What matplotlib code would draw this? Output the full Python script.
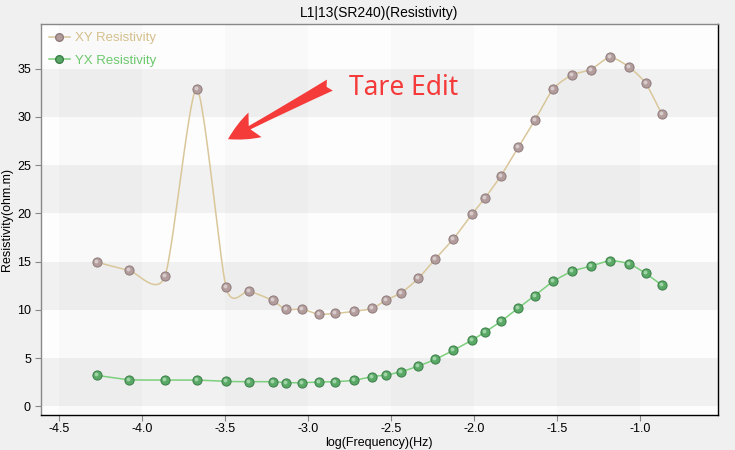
import numpy as np
import matplotlib
matplotlib.use("Agg")
import matplotlib.pyplot as plt
from matplotlib.lines import Line2D

log_freq = [-4.276, -4.079, -3.864, -3.673, -3.496, -3.358, -3.215, -3.137, -3.04, -2.938,
            -2.838, -2.727, -2.616, -2.534, -2.44, -2.337, -2.235, -2.126, -2.013, -1.935,
            -1.839, -1.734, -1.634, -1.524, -1.411, -1.298, -1.182, -1.069, -0.967, -0.870]
xy_res = [14.96, 14.1, 13.5, 32.9, 12.37, 11.96, 10.99, 10.06, 10.09, 9.57,
          9.64, 9.85, 10.16, 10.99, 11.78, 13.27, 15.27, 17.34, 19.93, 21.6,
          23.9, 26.86, 29.66, 32.9, 34.35, 34.9, 36.18, 35.2, 33.5, 30.35]
yx_res = [3.23, 2.78, 2.74, 2.74, 2.6, 2.57, 2.57, 2.47, 2.47, 2.54,
          2.57, 2.71, 3.09, 3.26, 3.6, 4.19, 4.88, 5.82, 6.88, 7.71,
          8.82, 10.2, 11.5, 12.96, 14.0, 14.54, 15.1, 14.8, 13.8, 12.58]
x_ticks = [-4.5, -4.0, -3.5, -3.0, -2.5, -2.0, -1.5, -1.0]
y_ticks = [0, 5, 10, 15, 20, 25, 30, 35]

title = "L1|13(SR240)(Resistivity)"
xlabel = "log(Frequency)(Hz)"
ylabel = "Resistivity(ohm.m)"


def cardinal(xs, ys, k=0.35, n=24):
    # cardinal spline through the points (k = tangent scale)
    P = np.column_stack([xs, ys]).astype(float)
    P = np.vstack([2 * P[0] - P[1], P, 2 * P[-1] - P[-2]])
    out = []
    t = np.linspace(0, 1, n, endpoint=False)[:, None]
    h00 = 2 * t ** 3 - 3 * t ** 2 + 1
    h10 = t ** 3 - 2 * t ** 2 + t
    h01 = -2 * t ** 3 + 3 * t ** 2
    h11 = t ** 3 - t ** 2
    for i in range(1, len(P) - 2):
        p0, p1, p2, p3 = P[i - 1], P[i], P[i + 1], P[i + 2]
        m1 = k * (p2 - p0)
        m2 = k * (p3 - p1)
        out.append(h00 * p1 + h10 * m1 + h01 * p2 + h11 * m2)
    out.append(P[-2][None, :])
    out = np.vstack(out)
    return out[:, 0], out[:, 1]


plt.rcParams['font.family'] = ['Liberation Sans', 'DejaVu Sans']

fig = plt.figure(figsize=(7.35, 4.5), dpi=100)
fig.patch.set_facecolor('#f0f0f0')
ax = fig.add_axes([0.0554, 0.0778, 0.9215, 0.8682])
ax.set_facecolor('#fdfdfd')
xlim = (-4.613, -0.53)
ylim = (-0.88, 39.6)
ax.set_xlim(*xlim)
ax.set_ylim(*ylim)

# background bands
for y0 in range(0, 40, 10):
    ax.axhspan(y0, y0 + 5, color='#f1f1f1', zorder=0, lw=0)
for x0 in [-4.5, -3.5, -2.5, -1.5]:
    ax.axvspan(x0, x0 + 0.5, color='#000000', alpha=0.015, zorder=0.5, lw=0)

xy_line = '#d9c79a'
yx_line = '#7ccf7c'
sx, sy = cardinal(log_freq, xy_res)
ax.plot(sx, sy, color=xy_line, lw=1.1, zorder=2)
sx, sy = cardinal(log_freq, yx_res)
ax.plot(sx, sy, color=yx_line, lw=1.1, zorder=2)

hl = ax.transData + matplotlib.transforms.ScaledTranslation(-1 / 100, 1 / 100, fig.dpi_scale_trans)
ax.plot(log_freq, xy_res, ls='none', marker='o', ms=6.6, mfc='#b39c9c', mec='#8f7b7b', mew=0.7, zorder=3)
ax.plot(log_freq, xy_res, ls='none', marker='o', ms=2.8, mfc='#d8cbcb', mec='none', zorder=4, transform=hl)
ax.plot(log_freq, yx_res, ls='none', marker='o', ms=6.6, mfc='#5aa866', mec='#3a7d48', mew=0.7, zorder=3)
ax.plot(log_freq, yx_res, ls='none', marker='o', ms=2.8, mfc='#9fd4a6', mec='none', zorder=4, transform=hl)

ax.set_xticks(x_ticks)
ax.set_xticklabels([f"{v:.1f}" for v in x_ticks])
ax.set_yticks(y_ticks)
ax.tick_params(axis='both', labelsize=9, length=4, width=0.8, color='#888888', pad=2)
ax.tick_params(axis='y', pad=3)

for side in ['left', 'top']:
    ax.spines[side].set_color('#888888')
for side in ['right', 'bottom']:
    ax.spines[side].set_color('#000000')
for s in ax.spines.values():
    s.set_linewidth(1.0)

ax.set_title(title, fontsize=10, pad=5)
ax.set_xlabel(xlabel, fontsize=9, labelpad=1)
ax.set_ylabel(ylabel, fontsize=9, labelpad=3)

handles = [
    Line2D([], [], color=xy_line, lw=1.1, marker='o', ms=5.5, mfc='#b39c9c', mec='#8f7b7b'),
    Line2D([], [], color=yx_line, lw=1.1, marker='o', ms=5.5, mfc='#5aa866', mec='#3a7d48'),
]
leg = ax.legend(handles, ["XY Resistivity", "YX Resistivity"], loc='upper left', frameon=False,
                fontsize=9.5, handlelength=1.6, handletextpad=0.4, labelspacing=0.75,
                borderaxespad=0.2, bbox_to_anchor=(0.0, 1.0))
leg.get_texts()[0].set_color('#d4c08c')
leg.get_texts()[1].set_color('#6cc86c')

ax.annotate("", xy=(-3.484, 27.7), xytext=(-2.87, 33.3),
            arrowprops=dict(arrowstyle='fancy,head_length=2.2,head_width=2.0,tail_width=0.9',
                            color='#f53a3a', lw=0, shrinkA=0, shrinkB=0), zorder=5)
ax.text(-2.755, 33.0, "Tare Edit", color='#f53a3a', fontsize=19, family=['Noto Sans', 'DejaVu Sans'],
        va='center', ha='left', zorder=5)

fig.savefig("out.png", dpi=100, facecolor=fig.get_facecolor())
